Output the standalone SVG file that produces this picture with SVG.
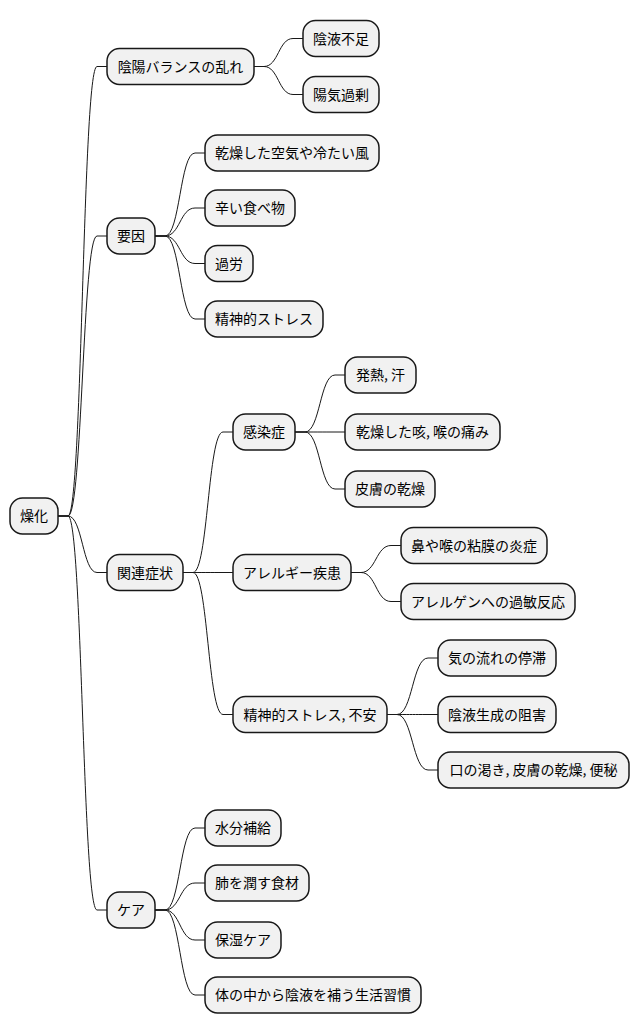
<svg xmlns="http://www.w3.org/2000/svg" width="641" height="1034" viewBox="0 0 641 1034">
<style>
.n rect{fill:#F1F1F1;stroke:#181818;stroke-width:1.5}
.n text{font-family:"Noto Sans CJK JP","Noto Sans",sans-serif;font-size:14px;fill:#000;text-anchor:middle}
.c path{fill:none;stroke:#181818;stroke-width:1}
</style>
<rect width="641" height="1034" fill="#FFFFFF"/>
<g class="c">
<path d="M58,516 L68,516 C82.5,516 82.5,66.5 97,66.5 L107,66.5"/>
<path d="M58,516 L68,516 C82.5,516 82.5,236 97,236 L107,236"/>
<path d="M58,516 L68,516 C82.5,516 82.5,572.5 97,572.5 L107,572.5"/>
<path d="M58,516 L68,516 C82.5,516 82.5,910 97,910 L107,910"/>
<path d="M254,66.5 L264,66.5 C278.5,66.5 278.5,38.5 293,38.5 L303,38.5"/>
<path d="M254,66.5 L264,66.5 C278.5,66.5 278.5,94.5 293,94.5 L303,94.5"/>
<path d="M155,236 L165,236 C180,236 180,153 195,153 L205,153"/>
<path d="M155,236 L165,236 C180,236 180,208 195,208 L205,208"/>
<path d="M155,236 L165,236 C180,236 180,263.5 195,263.5 L205,263.5"/>
<path d="M155,236 L165,236 C180,236 180,319 195,319 L205,319"/>
<path d="M183,572.5 L193,572.5 C208,572.5 208,432 223,432 L233,432"/>
<path d="M183,572.5 L193,572.5 C208,572.5 208,572.5 223,572.5 L233,572.5"/>
<path d="M183,572.5 L193,572.5 C208,572.5 208,714.5 223,714.5 L233,714.5"/>
<path d="M295,432 L305,432 C320,432 320,375 335,375 L345,375"/>
<path d="M295,432 L305,432 C320,432 320,432 335,432 L345,432"/>
<path d="M295,432 L305,432 C320,432 320,489 335,489 L345,489"/>
<path d="M351,572.5 L361,572.5 C376,572.5 376,545.5 391,545.5 L401,545.5"/>
<path d="M351,572.5 L361,572.5 C376,572.5 376,601.5 391,601.5 L401,601.5"/>
<path d="M387,714.5 L397,714.5 C412.5,714.5 412.5,658 428,658 L438,658"/>
<path d="M387,714.5 L397,714.5 C412.5,714.5 412.5,714.5 428,714.5 L438,714.5"/>
<path d="M387,714.5 L397,714.5 C412.5,714.5 412.5,770 428,770 L438,770"/>
<path d="M155,910 L165,910 C180,910 180,828 195,828 L205,828"/>
<path d="M155,910 L165,910 C180,910 180,883 195,883 L205,883"/>
<path d="M155,910 L165,910 C180,910 180,940 195,940 L205,940"/>
<path d="M155,910 L165,910 C180,910 180,995 195,995 L205,995"/>
</g>
<g id="root" class="n"><rect x="10" y="498" width="48" height="36" rx="12.5"/><text x="34" y="521">燥化</text></g>
<g id="n1" class="n"><rect x="107" y="48.5" width="147" height="36" rx="12.5"/><text x="180.5" y="71.5">陰陽バランスの乱れ</text></g>
<g id="n1a" class="n"><rect x="303" y="20.5" width="76" height="36" rx="12.5"/><text x="341" y="43.5">陰液不足</text></g>
<g id="n1b" class="n"><rect x="303" y="76.5" width="76" height="36" rx="12.5"/><text x="341" y="99.5">陽気過剰</text></g>
<g id="n2" class="n"><rect x="107" y="218" width="48" height="36" rx="12.5"/><text x="131" y="241">要因</text></g>
<g id="n2a" class="n"><rect x="205" y="135" width="174" height="36" rx="12.5"/><text x="292" y="158">乾燥した空気や冷たい風</text></g>
<g id="n2b" class="n"><rect x="205" y="190" width="90" height="36" rx="12.5"/><text x="250" y="213">辛い食べ物</text></g>
<g id="n2c" class="n"><rect x="205" y="245.5" width="48" height="36" rx="12.5"/><text x="229" y="268.5">過労</text></g>
<g id="n2d" class="n"><rect x="205" y="301" width="118" height="36" rx="12.5"/><text x="264" y="324">精神的ストレス</text></g>
<g id="n3" class="n"><rect x="107" y="554.5" width="76" height="36" rx="12.5"/><text x="145" y="577.5">関連症状</text></g>
<g id="n3a" class="n"><rect x="233" y="414" width="62" height="36" rx="12.5"/><text x="264" y="437">感染症</text></g>
<g id="n3a1" class="n"><rect x="345" y="357" width="71" height="36" rx="12.5"/><text x="380.5" y="380">発熱, 汗</text></g>
<g id="n3a2" class="n"><rect x="345" y="414" width="155" height="36" rx="12.5"/><text x="422.5" y="437">乾燥した咳, 喉の痛み</text></g>
<g id="n3a3" class="n"><rect x="345" y="471" width="90" height="36" rx="12.5"/><text x="390" y="494">皮膚の乾燥</text></g>
<g id="n3b" class="n"><rect x="233" y="554.5" width="118" height="36" rx="12.5"/><text x="292" y="577.5">アレルギー疾患</text></g>
<g id="n3b1" class="n"><rect x="401" y="527.5" width="146" height="36" rx="12.5"/><text x="474" y="550.5">鼻や喉の粘膜の炎症</text></g>
<g id="n3b2" class="n"><rect x="401" y="583.5" width="174" height="36" rx="12.5"/><text x="488" y="606.5">アレルゲンへの過敏反応</text></g>
<g id="n3c" class="n"><rect x="233" y="696.5" width="154" height="36" rx="12.5"/><text x="310" y="719.5">精神的ストレス, 不安</text></g>
<g id="n3c1" class="n"><rect x="438" y="640" width="118" height="36" rx="12.5"/><text x="497" y="663">気の流れの停滞</text></g>
<g id="n3c2" class="n"><rect x="438" y="696.5" width="118" height="36" rx="12.5"/><text x="497" y="719.5">陰液生成の阻害</text></g>
<g id="n3c3" class="n"><rect x="438" y="752" width="191" height="36" rx="12.5"/><text x="533.5" y="775">口の渇き, 皮膚の乾燥, 便秘</text></g>
<g id="n4" class="n"><rect x="107" y="892" width="48" height="36" rx="12.5"/><text x="131" y="915">ケア</text></g>
<g id="n4a" class="n"><rect x="205" y="810" width="76" height="36" rx="12.5"/><text x="243" y="833">水分補給</text></g>
<g id="n4b" class="n"><rect x="205" y="865" width="104" height="36" rx="12.5"/><text x="257" y="888">肺を潤す食材</text></g>
<g id="n4c" class="n"><rect x="205" y="922" width="76" height="36" rx="12.5"/><text x="243" y="945">保湿ケア</text></g>
<g id="n4d" class="n"><rect x="205" y="977" width="216" height="36" rx="12.5"/><text x="313" y="1000">体の中から陰液を補う生活習慣</text></g>
</svg>
